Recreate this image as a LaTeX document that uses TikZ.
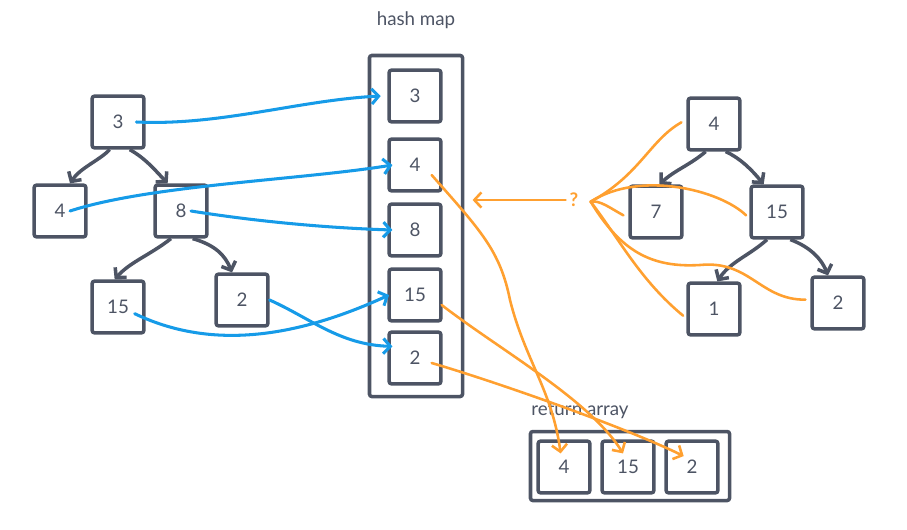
\documentclass[tikz,border=0pt]{standalone}
\usepackage{fontspec}
\setmainfont{Lato}
\usetikzlibrary{arrows.meta}
\definecolor{slate}{RGB}{77,84,100}
\definecolor{mapblue}{RGB}{22,155,232}
\definecolor{pickorange}{RGB}{255,160,48}

\begin{document}
\begin{tikzpicture}[x=0.03cm,y=-0.03cm,
    box/.style={draw=slate,line width=3pt,rounded corners=2pt,minimum size=1.55cm,
      text=slate,font=\fontsize{16}{18}\selectfont},
    frame/.style={draw=slate,line width=3pt,rounded corners=2pt},
    title/.style={text=slate,font=\fontsize{16}{18}\selectfont},
    edge/.style={slate,line width=3pt,-{Straight Barb[length=6pt,width=13pt]}},
    blueline/.style={mapblue,line width=2.6pt,line cap=round,-{Straight Barb[length=6pt,width=13pt]}},
    orangeline/.style={pickorange,line width=2.2pt,line cap=round},
    orangearrow/.style={orangeline,-{Straight Barb[length=6pt,width=13pt]}}]
	\useasboundingbox (0,0) rectangle (907,529);
	\node[frame,minimum width=2.79cm,minimum height=10.23cm] (hm) at (416,226) {};
	\node[frame,minimum width=5.97cm,minimum height=2.07cm] (ra) at (630,466) {};
	\node[title] (hmt) at (416,20) {hash map};
	\node[title] (rat) at (580,411) {return array};
	\node[box] (l3) at (118,122) {3};
	\node[box] (l4) at (60,211) {4};
	\node[box] (l8) at (181,211) {8};
	\node[box] (l15) at (118,307) {15};
	\node[box] (l2) at (242,300) {2};
	\node[box] (h3) at (415,96) {3};
	\node[box] (h4) at (415,165) {4};
	\node[box] (h8) at (415,230) {8};
	\node[box] (h15) at (415,295) {15};
	\node[box] (h2) at (415,358) {2};
	\node[box] (r4) at (714,124) {4};
	\node[box] (r7) at (656,212) {7};
	\node[box] (r15) at (777,212) {15};
	\node[box] (r1) at (714,309) {1};
	\node[box] (r2) at (838,303) {2};
	\node[box] (a4) at (564,467) {4};
	\node[box] (a15) at (628,467) {15};
	\node[box] (a2) at (692,467) {2};
	\node[text=pickorange,font=\fontsize{16}{18}\selectfont\bfseries] (q) at (574,200) {?};
	\draw[edge] ([xshift=-0.25cm]l3.south) .. controls (100,160) and (80,168) .. ([xshift=0.3cm]l4.north);
	\draw[edge] ([xshift=0.35cm]l3.south) .. controls (145,158) and (155,170) .. ([xshift=-0.4cm]l8.north);
	\draw[edge] ([xshift=-0.3cm]l8.south) .. controls (150,255) and (130,262) .. ([xshift=-0.1cm]l15.north);
	\draw[edge] ([xshift=0.35cm]l8.south) .. controls (215,245) and (225,255) .. ([xshift=-0.3cm]l2.north);
	\draw[edge] ([xshift=-0.25cm]r4.south) .. controls (690,165) and (675,170) .. ([xshift=0.1cm]r7.north);
	\draw[edge] ([xshift=0.35cm]r4.south) .. controls (740,158) and (752,170) .. ([xshift=-0.4cm]r15.north);
	\draw[edge] ([xshift=-0.3cm]r15.south) .. controls (750,255) and (730,262) .. ([xshift=0.1cm]r1.north);
	\draw[edge] ([xshift=0.4cm]r15.south) .. controls (805,245) and (820,255) .. ([xshift=-0.3cm]r2.north);
	\draw[blueline] ([xshift=0.55cm]l3.center) .. controls (220,126) and (300,100) .. ([xshift=-0.2cm]h3.west);
	\draw[blueline] ([xshift=0.3cm]l4.center) .. controls (150,185) and (300,180) .. ([xshift=0.15cm]h4.west);
	\draw[blueline] ([xshift=0.3cm]l8.center) .. controls (260,222) and (330,228) .. ([xshift=0.15cm]h8.west);
	\draw[blueline] ([xshift=0.5cm,yshift=-0.2cm]l15.center) .. controls (200,345) and (280,345) .. ([xshift=0.05cm]h15.west);
	\draw[blueline] (l2.east) .. controls (310,318) and (340,345) .. ([xshift=0.15cm,yshift=0.35cm]h2.west);
	\draw[orangearrow] (q.west) -- ([xshift=0.25cm]hm.east |- q.west);
	\draw[orangearrow] ([xshift=0.5cm,yshift=-0.3cm]h4.center) .. controls (480,230) and (500,250) .. (510,300)
	  .. controls (525,360) and (552,390) .. ([xshift=-0.1cm,yshift=-0.42cm]a4.north);
	\draw[orangearrow] ([xshift=0.8cm,yshift=-0.3cm]h15.center) .. controls (500,350) and (590,400) .. ([xshift=-0.15cm,yshift=-0.42cm]a15.north);
	\draw[orangearrow] ([xshift=0.5cm,yshift=-0.15cm]h2.center) .. controls (490,380) and (620,425) .. ([xshift=-0.25cm,yshift=-0.5cm]a2.north);
	\draw[orangeline] ([xshift=-0.15cm,yshift=0.05cm]r4.west) .. controls (650,140) and (640,175) .. ([xshift=0.5cm,yshift=-0.05cm]q.center);
	\draw[orangeline] ([xshift=-0.15cm,yshift=-0.1cm]r7.west) .. controls (610,208) and (600,200) .. ([xshift=0.5cm,yshift=-0.05cm]q.center);
	\draw[orangeline] ([xshift=-0.1cm,yshift=-0.1cm]r15.west) .. controls (720,190) and (640,170) .. ([xshift=0.5cm,yshift=-0.05cm]q.center);
	\draw[orangeline] ([xshift=-0.1cm,yshift=-0.2cm]r1.west) .. controls (640,280) and (620,240) .. ([xshift=0.5cm,yshift=-0.05cm]q.center);
	\draw[orangeline] ([xshift=-0.15cm,yshift=0.1cm]r2.west) .. controls (760,300) and (750,260) .. (700,265)
	  .. controls (650,268) and (620,250) .. ([xshift=0.5cm,yshift=-0.05cm]q.center);
\end{tikzpicture}
\end{document}
